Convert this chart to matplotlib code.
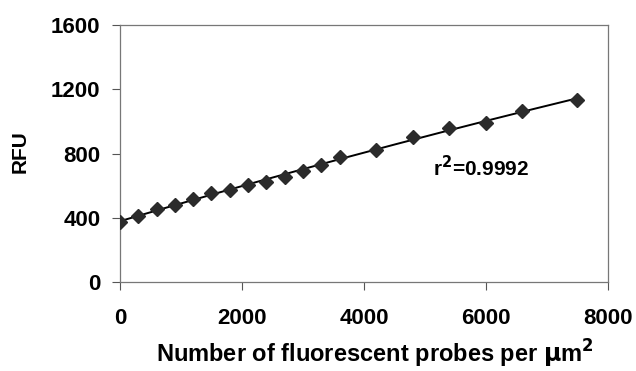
import numpy as np
import matplotlib.pyplot as plt

# probes per um^2 vs RFU
probes = [0, 300, 600, 900, 1200, 1500, 1800, 2100, 2400, 2700, 3000, 3300, 3600,
          4200, 4800, 5400, 6000, 6600, 7500]
rfu = [376, 411, 455, 482, 515, 553, 574, 603, 623, 656, 692, 729, 781,
       823, 902, 958, 993, 1066, 1135]
xticks = [0, 2000, 4000, 6000, 8000]
yticks = [0, 400, 800, 1200, 1600]

plt.rcParams['font.family'] = ['Liberation Sans', 'DejaVu Sans']
plt.rcParams['font.weight'] = 'bold'
plt.rcParams['mathtext.default'] = 'bf'

fig = plt.figure(figsize=(6.36, 3.71), dpi=100)
ax = fig.add_axes([0.1887, 0.2399, 0.767, 0.6927])

# trend line
coef = np.polyfit(probes, rfu, 2)
xx = np.linspace(probes[0], probes[-1], 200)
ax.plot(xx, np.polyval(coef, xx), color='black', lw=1.4, zorder=2)
ax.plot(probes, rfu, 'D', color='#2b2b2b', ms=7.5, zorder=3)

ax.text(5130, 711, r'r$^{2}$=0.9992', fontsize=15, fontweight='bold',
        ha='left', va='center')

ax.set_xlim(0, 8000)
ax.set_ylim(0, 1600)
ax.set_xticks(xticks)
ax.set_yticks(yticks)
ax.tick_params(direction='out', length=6, width=0.8, colors='#555555',
               labelcolor='black', labelsize=16)
ax.tick_params(axis='x', pad=13)
ax.tick_params(axis='y', pad=8)
for s in ax.spines.values():
    s.set_color('#777777')
    s.set_linewidth(0.9)

ax.set_xlabel('Number of fluorescent probes per $\\mu$m$^{2}$',
              fontsize=17, fontweight='bold', va='baseline')
ax.xaxis.set_label_coords(0.5225, -0.315)
ax.set_ylabel('RFU', fontsize=15, fontweight='bold')
ax.yaxis.set_label_coords(-0.185, 0.506)

fig.savefig('out.png', dpi=100)
